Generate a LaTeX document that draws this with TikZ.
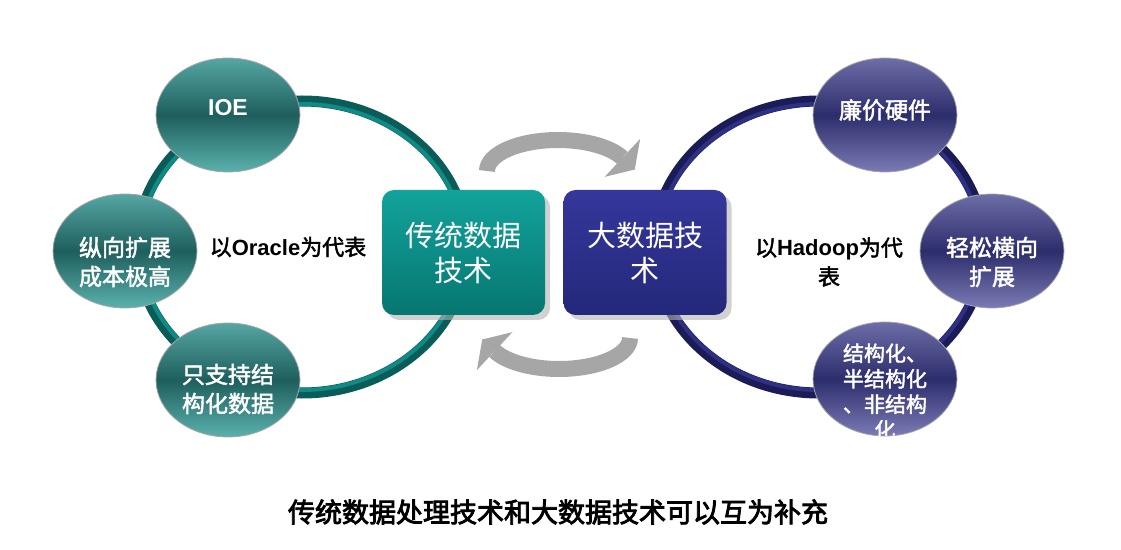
\documentclass[tikz,border=0pt]{standalone}
\usepackage{fontspec}
\setmainfont{Noto Sans CJK SC}
\newfontfamily\medcjk[FakeBold=2]{Noto Sans CJK SC}
\newfontfamily\heavycjk[FakeBold=3]{Noto Sans CJK SC}
\newfontfamily\latfont{Liberation Sans}
\usetikzlibrary{arrows.meta,shadows,shapes.geometric}

\definecolor{tealdark}{HTML}{0A5C58}
\definecolor{teallight}{HTML}{108A84}
\definecolor{tealtop}{HTML}{55A6A3}
\definecolor{tealmid}{HTML}{1E5F5D}
\definecolor{tealbot}{HTML}{5BB1AD}
\definecolor{navydark}{HTML}{1B1C57}
\definecolor{navylight}{HTML}{2E3085}
\definecolor{navytop}{HTML}{6D6EA8}
\definecolor{navymid}{HTML}{2C2D6B}
\definecolor{navybot}{HTML}{7B7BB6}
\definecolor{boxtealtop}{HTML}{12A39C}
\definecolor{boxtealbot}{HTML}{077670}
\definecolor{boxnavytop}{HTML}{35379B}
\definecolor{boxnavybot}{HTML}{24287A}
\definecolor{arrowgray}{HTML}{A6A6A6}

\newcommand{\lat}[1]{{\latfont\bfseries #1}}

\tikzset{
  ball/.style={ellipse, minimum width=144pt, minimum height=114pt, inner sep=0pt, draw=gray!70, line width=0.8pt},
  tealball/.style={ball, top color=tealtop, bottom color=tealbot, middle color=tealmid},
  navyball/.style={ball, top color=navytop, bottom color=navybot, middle color=navymid},
  balltext/.style={text=white, font=\medcjk\fontsize{23}{29}\selectfont, align=center},
  techbox/.style={rounded corners=12pt, minimum width=163pt, minimum height=125pt, text=white,
    font=\fontsize{29}{35}\selectfont, align=center,
    drop shadow={shadow xshift=5pt, shadow yshift=-5pt, fill=gray!60, opacity=0.6}},
  cyclearrow/.style={arrowgray, line width=16pt, shorten >=-17pt,
    -{Triangle[width=52pt,length=17pt,line width=0pt]}},
  sidetext/.style={font=\medcjk\fontsize{22}{29}\selectfont, align=center}
}

\begin{document}
\begin{tikzpicture}[x=1pt,y=1pt]
  \useasboundingbox (0,0) rectangle (1121,549);

  % Rings
  \draw[tealdark, line width=11pt] (302,302) ellipse[x radius=165, y radius=146];
  \draw[teallight, line width=4pt] (302,302) ellipse[x radius=162, y radius=143];
  \draw[navydark, line width=11pt] (819,302) ellipse[x radius=165, y radius=146];
  \draw[navylight, line width=4pt] (819,302) ellipse[x radius=162, y radius=143];

  % Cycle arrows
  \coordinate (topstart) at (487,378);
  \coordinate (botstart) at (630,211);
  \draw[cyclearrow] (topstart) arc[start angle=180, end angle=25, x radius=71, y radius=31];
  \draw[cyclearrow] (botstart) arc[start angle=0, end angle=-155, x radius=71, y radius=31];

  % Technology boxes
  \node[techbox, top color=boxtealtop, bottom color=boxtealbot] (trad) at (463.5,296.5) {传统数据\\技术};
  \node[techbox, top color=boxnavytop, bottom color=boxnavybot] (big) at (645,296.5) {大数据技\\术};

  % Left ring
  \node[tealball] (ioe) at (228,434) {};
  \node[tealball] (scaleup) at (125,298) {};
  \node[tealball] (structured) at (228,169) {};
  \node[balltext] (ioetext) at ([yshift=7]ioe.center) {\lat{IOE}};
  \node[balltext] (scaleuptext) at ([yshift=-11]scaleup.center) {纵向扩展\\成本极高};
  \node[balltext] (structuredtext) at ([yshift=-9]structured.center) {只支持结\\构化数据};
  \node[sidetext] (oracle) at (288,302) {以\lat{Oracle}为代表};

  % Right ring
  \node[navyball] (cheap) at (885,434) {};
  \node[navyball] (scaleout) at (992,298) {};
  \node[navyball] (datatypes) at (885,170) {};
  \node[balltext] (cheaptext) at ([yshift=5]cheap.center) {廉价硬件};
  \node[balltext] (scaleouttext) at ([yshift=-11]scaleout.center) {轻松横向\\扩展};
  \begin{scope}
    \clip (885,170) ellipse[x radius=72, y radius=57];
    \node[balltext, font=\medcjk\fontsize{21}{25.5}\selectfont] (datatypestext)
      at ([yshift=-12.5]datatypes.center) {结构化、\\半结构化\\、非结构\\化};
  \end{scope}
  \node[sidetext] (hadoop) at (829,287) {以\lat{Hadoop}为代\\表};

  % Caption
  \node[font=\heavycjk\fontsize{27}{30}\selectfont] (caption) at (558,37) {传统数据处理技术和大数据技术可以互为补充};
\end{tikzpicture}
\end{document}
